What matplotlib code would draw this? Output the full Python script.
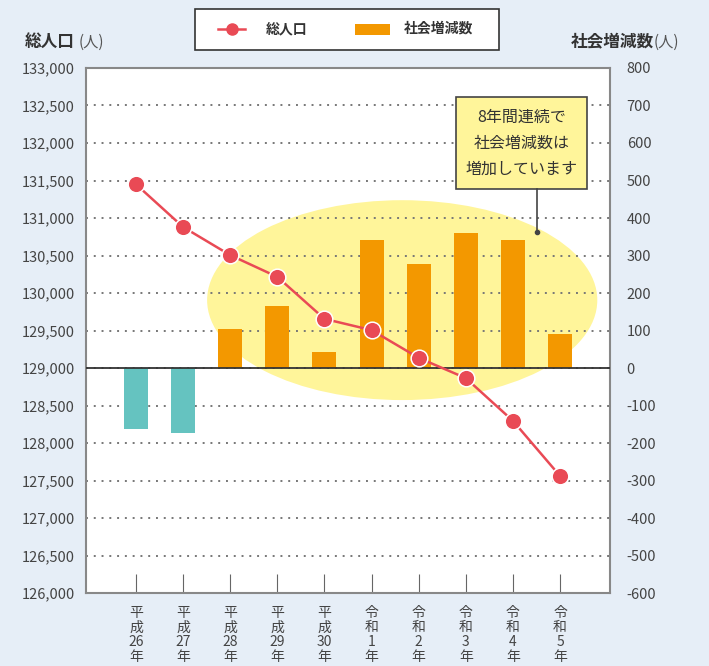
import matplotlib.pyplot as plt
import numpy as np
from matplotlib.patches import Ellipse, Rectangle
from matplotlib.lines import Line2D

plt.rcParams['font.family'] = ['Noto Sans CJK JP', 'DejaVu Sans']

# data
years = ['平\n成\n26\n年', '平\n成\n27\n年', '平\n成\n28\n年', '平\n成\n29\n年', '平\n成\n30\n年',
         '令\n和\n1\n年', '令\n和\n2\n年', '令\n和\n3\n年', '令\n和\n4\n年', '令\n和\n5\n年']
population = [131450, 130880, 130505, 130215, 129655, 129505, 129135, 128865, 128295, 127560]
social_change = [-163, -173, 104, 165, 43, 341, 277, 360, 341, 91]

left_ticks = np.arange(126000, 133001, 500)
right_ticks = np.arange(-600, 801, 100)

bg = '#e6eef7'
red = '#e94a55'
orange = '#f39800'
teal = '#65c3c0'
yellow = '#fff59a'
txt = '#444444'

fig = plt.figure(figsize=(7.09, 6.66), dpi=100, facecolor=bg)
ax = fig.add_axes([0.1213, 0.1096, 0.7391, 0.7883])
ax2 = ax.twinx()

x = np.arange(len(years))

# bars on ax (right scale), line on ax2 (left scale)
ax.set_ylim(-600, 800)
ax.set_xlim(-1.06, 10.06)
ax.add_patch(Ellipse((5.65, 181), 8.28, 533, facecolor=yellow, edgecolor='none', zorder=0.2))
ax.set_axisbelow(True)
ax.yaxis.grid(True, linestyle=(0, (1, 3)), color='#777777', linewidth=1.4)
cols = [teal if v < 0 else orange for v in social_change]
ax.bar(x, social_change, width=0.51, color=cols, zorder=2)
ax.axhline(0, color='#333333', linewidth=1.3, zorder=3)

ax.yaxis.tick_right()
ax.set_yticks(right_ticks)
ax.set_yticklabels([str(v) for v in right_ticks])
ax.tick_params(axis='y', length=0, pad=12, labelsize=10.5, labelcolor=txt)
ax.set_xticks(x)
ax.set_xticklabels(years, linespacing=1.08)
ax.tick_params(axis='x', direction='in', length=14, color='#666666', pad=9,
               labelsize=10, labelcolor=txt)
for s in ax.spines.values():
    s.set_color('#888888')
    s.set_linewidth(1.5)

ax2.set_ylim(126000, 133000)
ax2.plot(x, population, color=red, linewidth=1.8, marker='o', markersize=12,
         markerfacecolor=red, markeredgecolor='white', markeredgewidth=1.1, zorder=5)
ax2.yaxis.tick_left()
ax2.set_yticks(left_ticks)
ax2.set_yticklabels([f'{v:,}' for v in left_ticks])
ax2.tick_params(axis='y', length=0, pad=8, labelsize=10.5, labelcolor=txt)
for s in ax2.spines.values():
    s.set_visible(False)

# callout
ax.add_patch(Rectangle((6.79, 477), 2.79, 246, facecolor=yellow, edgecolor='#444444',
                       linewidth=1.2, zorder=6))
ax.text(8.18, 600, '8年間連続で\n社会増減数は\n増加しています', ha='center', va='center',
        fontsize=11.5, color='#333333', linespacing=1.7, zorder=7)
ax.plot([8.51, 8.51], [477, 363], color='#444444', linewidth=1.2, zorder=6)
ax.plot([8.51], [363], 'o', color='#444444', markersize=3, zorder=6)

# axis titles
fig.text(25 / 709, 1 - 42 / 666, '総人口', fontsize=12, fontweight='bold', color='#333333',
         ha='left', va='center')
fig.text(79 / 709, 1 - 42 / 666, '(人)', fontsize=11, color='#555555', ha='left', va='center')
fig.text(654 / 709, 1 - 42 / 666, '社会増減数', fontsize=12, fontweight='bold', color='#333333',
         ha='right', va='center')
fig.text(654 / 709, 1 - 42 / 666, '(人)', fontsize=11, color='#555555', ha='left', va='center')

# legend
fig.patches.append(Rectangle((195 / 709, 1 - 50 / 666), 304 / 709, 41 / 666, transform=fig.transFigure,
                             facecolor='white', edgecolor='#333333', linewidth=1.2))
fig.lines.append(Line2D([218 / 709, 245 / 709], [1 - 29 / 666] * 2, transform=fig.transFigure,
                        color=red, linewidth=1.8))
fig.lines.append(Line2D([231.5 / 709], [1 - 29 / 666], transform=fig.transFigure, marker='o',
                        markersize=8, color=red, markeredgecolor=red))
fig.text(266 / 709, 1 - 29 / 666, '総人口', fontsize=10, fontweight='bold', color='#333333',
         ha='left', va='center')
fig.patches.append(Rectangle((355 / 709, 1 - 35 / 666), 35 / 709, 11 / 666, transform=fig.transFigure,
                             facecolor=orange, edgecolor='none'))
fig.text(404 / 709, 1 - 29 / 666, '社会増減数', fontsize=10, fontweight='bold', color='#333333',
         ha='left', va='center')

fig.savefig('out.png', dpi=100, facecolor=bg)
